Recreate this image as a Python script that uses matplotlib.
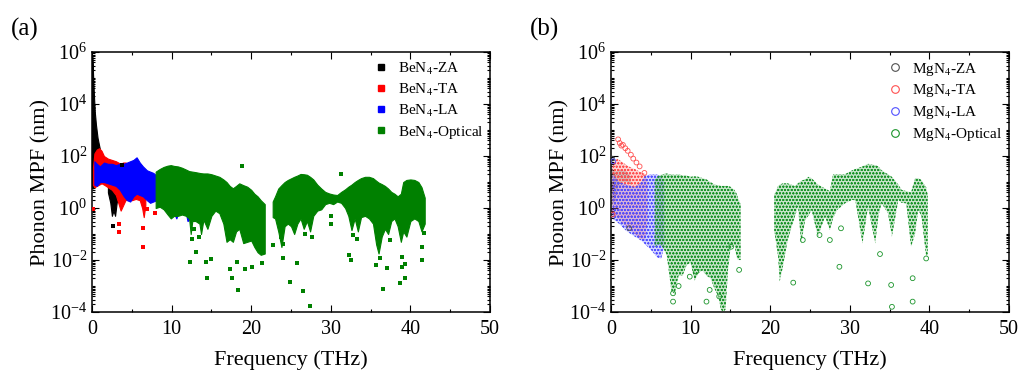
import numpy as np
import matplotlib
matplotlib.use("Agg")
import matplotlib.pyplot as plt
from matplotlib.lines import Line2D
from matplotlib.colors import to_rgba
from matplotlib.ticker import LogLocator, MultipleLocator, NullFormatter

plt.rcParams['font.family'] = 'Liberation Serif'
plt.rcParams['mathtext.fontset'] = 'stix'
plt.rcParams['hatch.linewidth'] = 0.5

# band edges are log10(MPF / nm) against frequency (THz)

# ---- BeN4 ----
be_za_f = [0.02, 0.08, 0.15, 0.25, 0.35, 0.5, 0.7, 0.9, 1.1, 1.3]
be_za_top = [5.9, 5.6, 5.0, 4.3, 3.7, 3.2, 2.7, 2.4, 2.1, 1.9]
be_za_bot = [0.8, 0.75, 0.8, 0.85, 0.9, 0.95, 1.0, 1.1, 1.2, 1.3]
be_za2_f = [2.0, 2.3, 2.5, 2.7, 2.9, 3.1, 3.3]
be_za2_top = [1.0, 1.1, 1.0, 1.0, 0.9, 0.9, 0.8]
be_za2_bot = [0.6, 0.2, -0.3, -0.1, -0.3, 0.2, 0.5]
be_za_pts_f = [2.6, 3.8]
be_za_pts = [-0.7, 1.64]

be_ta_f = [0.1, 0.3, 0.6, 0.9, 1.2, 1.5, 2.0, 2.5, 3.0, 3.3, 3.6, 3.9, 4.2, 4.6,
           5.0, 5.5, 6.0, 6.3, 6.5, 6.7]
be_ta_top = [1.5, 2.1, 2.25, 2.3, 2.2, 2.0, 1.9, 1.85, 1.8, 1.75, 1.7, 1.75, 1.75,
             1.7, 1.65, 1.55, 1.45, 1.3, 1.1, 0.9]
be_ta_bot = [0.9, 0.8, 0.85, 0.9, 0.95, 0.9, 0.8, 0.7, 0.5, 0.2, -0.1, 0.1, 0.3,
             0.35, 0.3, 0.35, 0.3, 0.0, -0.35, 0.1]
be_ta_pts_f = [0.1, 3.4, 3.4, 6.4, 6.4, 6.9, 7.9]
be_ta_pts = [-0.05, -0.6, -0.92, -0.77, -1.5, -0.05, -0.2]

be_la_f = [0.3, 0.6, 1.0, 1.5, 2.0, 2.5, 3.0, 3.5, 4.0, 4.4, 4.8, 5.2, 5.6, 6.0,
           6.4, 6.9, 7.3, 7.7, 8.1]
be_la_top = [1.8, 1.7, 1.6, 1.75, 1.7, 1.7, 1.65, 1.7, 1.7, 1.75, 1.8, 1.85, 1.95,
             1.75, 1.6, 1.45, 1.4, 1.35, 1.25]
be_la_bot = [0.9, 0.85, 1.0, 1.0, 0.95, 0.9, 0.85, 0.7, 0.45, 0.3, 0.25, 0.45, 0.55,
             0.5, 0.45, 0.3, 0.2, 0.25, 0.3]
be_la2_f = [10.0, 10.3, 10.6, 10.9, 11.1]
be_la2_top = [0.9, 1.0, 0.95, 0.9, 0.7]
be_la2_bot = [0.3, -0.2, -0.4, -0.1, 0.2]
be_la3_f = [11.8, 12.0, 12.2, 12.4]
be_la3_top = [0.3, 0.45, 0.4, 0.2]
be_la3_bot = [-0.2, -0.5, -0.45, -0.3]

be_op1_f = [8.0, 8.5, 9.0, 9.5, 9.9, 10.3, 10.8, 11.3, 11.8, 12.2, 12.4, 12.6, 13.0,
            13.5, 13.7, 14.0, 14.5, 15.0, 15.5, 16.0, 16.5, 16.9, 17.3, 17.7, 18.1,
            18.5, 19.0, 19.5, 20.0, 20.4, 20.8, 21.2, 21.7]
be_op1_top = [1.40, 1.50, 1.58, 1.63, 1.65, 1.62, 1.60, 1.55, 1.48, 1.42, 1.41, 1.40,
              1.38, 1.35, 1.34, 1.33, 1.33, 1.30, 1.25, 1.20, 1.10, 1.00, 0.85, 0.76,
              0.85, 0.95, 0.88, 0.82, 0.70, 0.55, 0.45, 0.30, 0.15]
be_op1_bot = [0.0, 0.05, -0.05, -0.25, -0.4, -0.3, -0.3, -0.25, -0.3, -0.4, -1.0, -0.5,
              -0.5, -0.6, -1.0, -0.45, -0.8, -0.3, -0.1, -0.2, -0.6, -1.3, -1.2, -1.3,
              -0.9, -0.8, -1.35, -1.3, -1.25, -1.5, -1.7, -1.8, -1.75]
be_op2_f = [22.7, 23.0, 23.4, 23.8, 24.2, 24.6, 25.0, 25.4, 25.8, 26.2, 26.6, 27.0,
            27.4, 27.8, 28.3, 28.8, 29.3, 29.8, 30.3, 30.8, 31.3, 31.8, 32.2, 32.6,
            33.0, 33.4, 33.8, 34.3, 34.8, 35.3, 35.7, 36.0, 36.4, 36.8, 37.2, 37.6,
            38.0, 38.4, 38.8, 39.1, 39.5, 40.0, 40.5, 41.0, 41.4, 41.8]
be_op2_top = [0.25, 0.45, 0.75, 0.88, 1.0, 1.08, 1.14, 1.2, 1.25, 1.31, 1.3, 1.28,
              1.2, 1.1, 0.9, 0.75, 0.62, 0.56, 0.52, 0.5, 0.62, 0.72, 0.82, 0.9, 1.0,
              1.08, 1.15, 1.2, 1.2, 1.15, 1.05, 0.98, 0.92, 0.85, 0.75, 0.62, 0.55,
              0.45, 0.55, 1.0, 1.08, 1.1, 1.08, 1.0, 0.8, 0.4]
be_op2_bot = [-0.35, -0.4, -0.9, -1.5, -0.7, -0.6, -0.7, -1.0, -0.6, -0.4, -0.8, -0.5,
              -0.9, -0.3, -0.1, -0.05, 0.15, 0.2, 0.15, 0.25, 0.2, 0.0, -0.3, -0.85,
              -0.4, -0.9, -0.35, -0.3, -0.4, -0.6, -1.4, -1.75, -1.1, -0.8, -1.0, -0.5,
              -0.4, -0.7, -1.3, -0.9, -1.1, -0.5, -0.4, -0.5, -0.9, -0.6]
be_op_pts_f = [12.3, 13.1, 14.3, 14.4, 14.9, 17.4, 17.6, 18.2, 18.4, 19.2, 20.1, 21.3,
               22.8, 24.0, 24.9, 25.7, 26.5, 27.4, 30.0, 31.3, 18.8, 32.3, 32.6, 32.8,
               35.7, 36.2, 36.5, 37.1, 37.4, 38.7, 38.9, 38.9, 39.3, 39.3, 41.4, 41.5,
               41.7, 23.8, 12.8, 13.5, 12.6, 24.0, 26.8, 27.6, 30.0, 33.3]
be_op_pts = [-2.06, -1.68, -2.06, -2.7, -1.97, -2.36, -2.7, -2.06, -3.15, -2.36, -2.26,
             -2.13, -1.42, -1.94, -2.83, -2.13, -3.18, -3.77, -0.62, 1.3, 1.6, -1.81,
             -2.0, -1.04, -2.19, -1.94, -3.1, -2.32, -1.23, -2.87, -1.87, -2.26, -2.7,
             -2.15, -1.49, -2.0, -0.97, -1.1, -0.82, -1.1, -1.2, -1.4, -1.0, -1.1, -0.3,
             -1.2]

# ---- MgN4 ----
mg_za_f = [0.05, 0.5, 1.0, 1.5, 2.0, 2.5]
mg_za_top = [1.6, 1.4, 1.45, 1.45, 1.4, 1.2]
mg_za_bot = [0.0, 0.3, 0.9, 1.0, 1.0, 0.9]
mg_za_pts_f = [2.3, 0.1]
mg_za_pts = [-0.78, 1.9]

mg_ta_f = [0.2, 0.8, 1.5, 2.2, 3.0, 3.6, 4.3, 4.6]
mg_ta_top = [1.7, 1.9, 1.75, 1.6, 1.5, 1.4, 1.3, 1.0]
mg_ta_bot = [-0.3, -0.4, -0.6, -0.8, -1.0, -1.2, -1.2, -0.5]
mg_ta_pts_f = [0.9, 1.1, 1.3, 1.5, 1.8, 2.1, 2.5, 2.8, 3.2, 3.6, 4.2, 0.2]
mg_ta_pts = [2.64, 2.5, 2.4, 2.43, 2.3, 2.2, 2.05, 1.9, 1.75, 1.6, 1.35, -0.25]

mg_la_f = [0.2, 1.0, 2.0, 3.0, 3.8, 4.3, 5.0, 5.8, 6.3, 6.7]
mg_la_top = [1.3, 1.0, 0.9, 0.8, 1.0, 1.25, 1.3, 1.3, 1.2, 1.0]
mg_la_bot = [-0.4, -0.6, -0.9, -1.1, -1.25, -1.4, -1.6, -1.9, -1.95, -1.5]
mg_la_pts_f = [0.3]
mg_la_pts = [1.8]

mg_op1_f = [5.5, 6.0, 6.5, 7.0, 7.3, 7.6, 8.0, 8.5, 9.0, 9.5, 10.0, 10.5, 11.0, 11.5,
            12.0, 12.5, 13.0, 13.5, 13.8, 14.1, 14.4, 14.7, 15.0, 15.5, 15.8, 16.0,
            16.3]
mg_op1_top = [1.1, 1.25, 1.3, 1.33, 1.3, 1.3, 1.28, 1.3, 1.25, 1.25, 1.2, 1.22, 1.2,
              1.15, 1.1, 1.0, 0.9, 0.88, 0.85, 0.85, 0.85, 0.85, 0.82, 0.7, 0.55,
              0.35, 0.15]
mg_op1_bot = [-1.5, -1.4, -1.5, -1.8, -2.5, -3.2, -3.3, -2.6, -2.6, -2.2, -2.1, -2.8,
              -2.5, -2.4, -2.6, -2.7, -3.1, -3.4, -3.9, -4.0, -3.9, -2.4, -1.6, -1.4,
              -1.9, -2.0, -2.0]
mg_op2_f = [20.5, 21.0, 21.2, 21.6, 22.2, 23.1, 23.5, 23.9, 24.4, 24.8, 25.2, 26.0,
            26.9, 27.5, 27.9, 28.4, 29.4, 30.3, 30.7, 31.6, 32.3, 33.2, 33.6, 34.0,
            34.8, 35.3, 36.1, 36.5, 37.1, 37.7, 38.2, 38.6, 39.0, 39.6, 39.8]
mg_op2_top = [0.5, 0.85, 0.9, 0.95, 0.95, 0.85, 0.95, 1.05, 1.1, 1.2, 1.15, 0.9,
              0.75, 0.65, 1.3, 1.3, 1.3, 1.45, 1.5, 1.6, 1.7, 1.65, 1.6, 1.45, 1.3,
              1.2, 0.9, 0.7, 0.65, 0.6, 1.15, 1.15, 1.08, 0.8, 0.5]
mg_op2_bot = [-0.85, -1.87, -2.83, -2.26, -1.23, -0.33, 0.05, -1.36, -0.46, -0.3,
              -0.08, -1.1, -0.33, -0.85, -0.4, -0.08, 0.18, 0.31, 0.3, -1.36, 0.05,
              -1.36, -0.3, 0.18, -0.2, -1.1, 0.31, 0.2, 0.18, -1.49, -1.0, -0.08,
              -0.3, -1.87, -1.8]
mg_op_pts_f = [7.8, 7.8, 8.5, 9.9, 10.7, 12.0, 12.4, 15.1, 16.1, 13.6, 22.9, 28.7,
               28.9, 27.5, 32.3, 33.8, 35.2, 35.3, 37.9, 37.9, 39.6, 24.1, 26.2]
mg_op_pts = [-3.28, -3.6, -3.0, -2.64, -2.45, -3.6, -3.15, -1.49, -2.38, -3.4, -2.87,
             -2.26, -0.78, -1.23, -2.9, -1.77, -2.96, -3.8, -2.7, -3.6, -1.94, -1.23,
             -1.04]

be_colors = ['black', 'red', 'blue', 'green']
mg_colors = ['#505050', '#ff5050', '#5050ff', '#1a942a']
be_labels = [r'BeN$_4$-ZA', r'BeN$_4$-TA', r'BeN$_4$-LA', r'BeN$_4$-Optical']
mg_labels = [r'MgN$_4$-ZA', r'MgN$_4$-TA', r'MgN$_4$-LA', r'MgN$_4$-Optical']


def band(ax, f, top, bot, color, hatch=None):
    top = np.power(10.0, top)
    bot = np.power(10.0, bot)
    if hatch is None:
        ax.fill_between(f, bot, top, color=color, lw=0.8, zorder=2)
    else:
        ax.fill_between(f, bot, top, facecolor=to_rgba(color, 0.25), edgecolor=color,
                        hatch=hatch, lw=0, zorder=2)


def dots(ax, f, v, color, open_marker=False):
    v = np.power(10.0, v)
    if open_marker:
        ax.scatter(f, v, s=12, marker='o', facecolors='none', edgecolors=color,
                   linewidths=0.6, zorder=3)
    else:
        ax.scatter(f, v, s=5, marker='s', color=color, lw=0, zorder=3)


def style(ax):
    ax.set_yscale('log')
    ax.set_xlim(0, 50)
    ax.set_ylim(1e-4, 1e6)
    ax.set_yticks([1e-4, 1e-2, 1e0, 1e2, 1e4, 1e6])
    ax.yaxis.set_minor_locator(LogLocator(base=10, subs=np.arange(1, 10), numticks=30))
    ax.yaxis.set_minor_formatter(NullFormatter())
    ax.xaxis.set_major_locator(MultipleLocator(10))
    ax.xaxis.set_minor_locator(MultipleLocator(5))
    ax.tick_params(which='both', direction='in', top=True, right=True, labelsize=14.5,
                   width=0.8)
    ax.tick_params(which='major', length=5)
    ax.tick_params(which='minor', length=2.5)
    ax.tick_params(axis='x', which='major', pad=6)
    for s in ax.spines.values():
        s.set_linewidth(1.1)
    ax.set_xlabel('Frequency (THz)', fontsize=16, labelpad=8)
    ax.set_ylabel('Phonon MPF (nm)', fontsize=16, labelpad=0)


fig = plt.figure(figsize=(10.21, 3.73), dpi=100)
ax1 = fig.add_axes([0.0901, 0.1635, 0.3898, 0.697])
ax2 = fig.add_axes([0.5984, 0.1635, 0.3898, 0.697])

# (a) BeN4
c = be_colors
band(ax1, be_za_f, be_za_top, be_za_bot, c[0])
band(ax1, be_za2_f, be_za2_top, be_za2_bot, c[0])
dots(ax1, be_za_pts_f, be_za_pts, c[0])
band(ax1, be_ta_f, be_ta_top, be_ta_bot, c[1])
dots(ax1, be_ta_pts_f, be_ta_pts, c[1])
band(ax1, be_la_f, be_la_top, be_la_bot, c[2])
band(ax1, be_la2_f, be_la2_top, be_la2_bot, c[2])
band(ax1, be_la3_f, be_la3_top, be_la3_bot, c[2])
band(ax1, be_op1_f, be_op1_top, be_op1_bot, c[3])
band(ax1, be_op2_f, be_op2_top, be_op2_bot, c[3])
dots(ax1, be_op_pts_f, be_op_pts, c[3])
style(ax1)
h1 = [Line2D([], [], ls='none', marker='s', ms=5, color=col) for col in c]
ax1.legend(h1, be_labels, loc='upper left', bbox_to_anchor=(0.672, 1.02), frameon=False,
           fontsize=11, handletextpad=0.6, labelspacing=0.32, handlelength=1.0)

# (b) MgN4
c = mg_colors
hp = 'ooooo'
band(ax2, mg_za_f, mg_za_top, mg_za_bot, c[0], hp)
dots(ax2, mg_za_pts_f, mg_za_pts, c[0], True)
band(ax2, mg_ta_f, mg_ta_top, mg_ta_bot, c[1], hp)
dots(ax2, mg_ta_pts_f, mg_ta_pts, c[1], True)
band(ax2, mg_la_f, mg_la_top, mg_la_bot, c[2], hp)
dots(ax2, mg_la_pts_f, mg_la_pts, c[2], True)
band(ax2, mg_op1_f, mg_op1_top, mg_op1_bot, c[3], hp)
band(ax2, mg_op2_f, mg_op2_top, mg_op2_bot, c[3], hp)
dots(ax2, mg_op_pts_f, mg_op_pts, c[3], True)
style(ax2)
h2 = [Line2D([], [], ls='none', marker='o', ms=5.5, mfc='none', mew=0.8, color=col)
      for col in c]
ax2.legend(h2, mg_labels, loc='upper left', bbox_to_anchor=(0.66, 1.02), frameon=False,
           fontsize=11, handletextpad=0.6, labelspacing=0.32, handlelength=1.0)

fig.text(0.011, 0.922, '(a)', fontsize=18, va='center')
fig.text(0.519, 0.922, '(b)', fontsize=18, va='center')

fig.savefig('out.png', dpi=100)
